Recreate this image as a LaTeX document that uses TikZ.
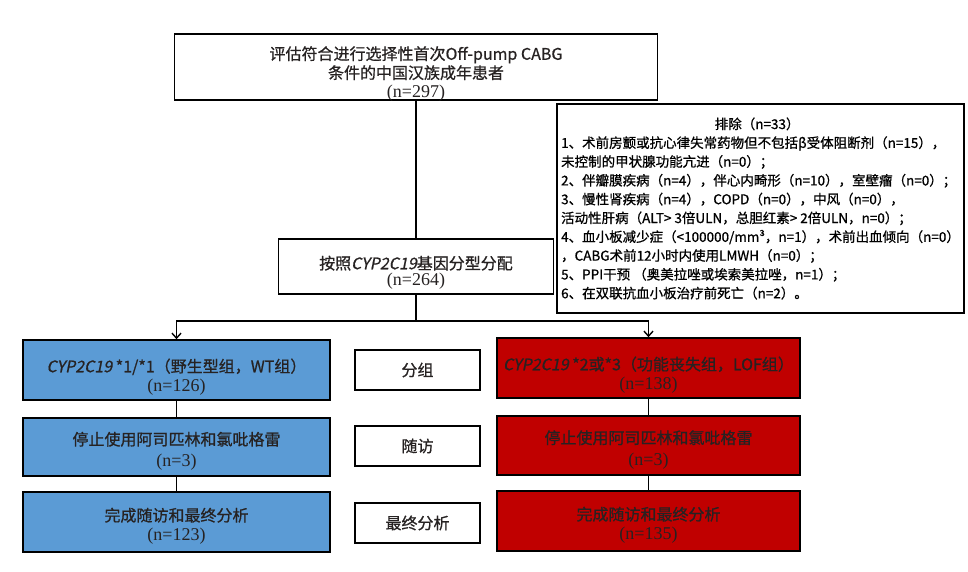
\documentclass[tikz,border=0pt]{standalone}
\usepackage{fontspec}
\setmainfont{Noto Sans CJK SC}[FakeBold=0.8]
\newfontfamily\slantcjk{Noto Sans CJK SC}[FakeSlant=0.2,FakeBold=0.8]
\newfontfamily\timesfont{Liberation Serif}
\usetikzlibrary{arrows.meta}

\definecolor{wtblue}{RGB}{91,155,213}
\definecolor{lofred}{RGB}{192,0,0}
\definecolor{boxtext}{RGB}{38,34,34}

\newcommand{\cyp}{{\slantcjk CYP2C19}}
\newcommand{\nval}[1]{{\timesfont\fontsize{18}{20}\selectfont(n=#1)}}
\newcommand{\padtop}[1]{\rule{0pt}{#1}}

\tikzset{
  box/.style={draw, line width=1.6pt, align=center, inner sep=2pt, text=boxtext},
  wtbox/.style={box, fill=wtblue, minimum width=307pt, minimum height=60pt},
  lofbox/.style={box, fill=lofred, minimum width=303pt, minimum height=60pt},
  stagebox/.style={box, minimum width=125pt, minimum height=40pt},
  link/.style={line width=1.8pt},
  arrowlink/.style={link, -{Straight Barb[length=5pt,width=9pt,line width=1.4pt]}}
}

\begin{document}
\begin{tikzpicture}[x=1pt, y=-1pt, font=\fontsize{16}{19.5}\selectfont]

  \useasboundingbox (0,0) rectangle (968,571);

  \node[box, minimum width=483pt, minimum height=66pt, inner ysep=0pt, text depth=0pt] (screen) at (416,67)
    {\padtop{23pt}评估符合进行选择性首次Off-pump CABG\\[-0.5pt]条件的中国汉族成年患者\\[-1pt]\nval{297}};

  \node[draw, line width=1.6pt, minimum width=407pt, minimum height=209pt, align=left,
        inner xsep=2pt, font=\fontsize{13.5}{18.8}\selectfont] (excl) at (760.5,208.5)
    {\makebox[392pt]{排除（n=33）}\\
     1、术前房颤或抗心律失常药物但不包括β受体阻断剂（n=15），\\
     未控制的甲状腺功能亢进（n=0）；\\
     2、伴瓣膜疾病（n=4），伴心内畸形（n=10），室壁瘤（n=0）；\\
     3、慢性肾疾病（n=4），COPD（n=0），中风（n=0），\\
     活动性肝病（ALT> 3倍ULN，总胆红素> 2倍ULN，n=0）；\\
     4、血小板减少症（<100000/mm³，n=1），术前出血倾向（n=0）\\
     ，CABG术前12小时内使用LMWH（n=0）；\\
     5、PPI干预 （奥美拉唑或埃索美拉唑，n=1）；\\
     6、在双联抗血小板治疗前死亡（n=2）。};

  \node[box, minimum width=275pt, minimum height=55pt, text depth=0pt] (alloc) at (416,266.5)
    {\padtop{22pt}按照\cyp 基因分型分配\\[-3pt]\nval{264}};

  \coordinate (split) at (416,321);

  \node[wtbox, text depth=0pt] (wt1) at (176.5,370) {\padtop{24pt}\cyp\ *1/*1（野生型组，WT组）\\\nval{126}};
  \node[wtbox, minimum height=58pt] (wt2) at (176.5,447) {\padtop{22pt}停止使用阿司匹林和氯吡格雷\\[2pt]\nval{3}};
  \node[wtbox] (wt3) at (176.5,522) {\padtop{22pt}完成随访和最终分析\\\nval{123}};

  \node[stagebox] (stage1) at (417.5,370) {分组};
  \node[stagebox] (stage2) at (417.5,446) {随访};
  \node[stagebox] (stage3) at (417.5,523) {最终分析};

  \node[lofbox, text depth=0pt] (lof1) at (648.5,368) {\padtop{24pt}\cyp\ *2或*3（功能丧失组，LOF组）\\\nval{138}};
  \node[lofbox, minimum height=59pt] (lof2) at (648.5,445.5) {\padtop{22pt}停止使用阿司匹林和氯吡格雷\\[2pt]\nval{3}};
  \node[lofbox] (lof3) at (648.5,521) {\padtop{22pt}完成随访和最终分析\\\nval{135}};

  \draw[link] (screen) -- (alloc);
  \draw[link] (alloc) -- (split);
  \draw[arrowlink] (split) -| (wt1);
  \draw[arrowlink] (split) -| (lof1);

  \draw[link] (wt1) -- (wt2);
  \draw[link] (wt2) -- (wt3);

  \draw[link] (lof1) -- (lof2);
  \draw[link] (lof2) -- (lof3);

\end{tikzpicture}
\end{document}
